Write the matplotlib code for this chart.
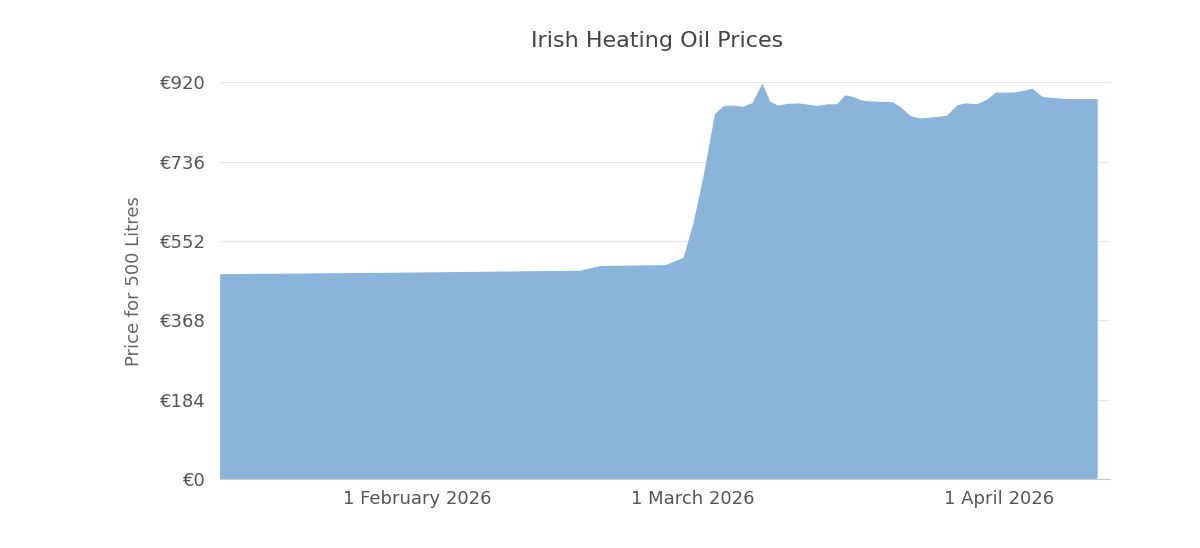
import matplotlib
matplotlib.use("Agg")
import matplotlib.pyplot as plt
import matplotlib.dates as mdates
import pandas as pd

start = pd.Timestamp("2026-01-12")
day_offsets = [0, 16, 36.5, 38.6, 45.2, 47, 48, 49, 50.2, 51.1, 52.1, 53, 54, 55, 55.8, 56.6,
               57.6, 58.7, 60.6, 61.6, 62.6, 63.4, 64.2, 65.2, 66.6, 68.2, 69, 70, 71, 73.7,
               74.8, 75.6, 76.8, 77.8, 78.7, 80.5, 81.5, 82.4, 83.4, 85.3, 86.3, 89.0]
prices = [476, 479, 484, 495, 497, 514, 593, 700, 848, 866, 867, 864, 873, 918, 876, 867,
          871, 872, 866, 870, 870, 891, 887, 878, 876, 875, 864, 843, 837, 843,
          868, 872, 870, 881, 897, 897, 901, 906, 887, 883, 882, 882]
dates = [start + pd.Timedelta(days=d) for d in day_offsets]
yticks = [0, 184, 368, 552, 736, 920]
xtick_dates = ["2026-02-01", "2026-03-01", "2026-04-01"]
xtick_labels = ["1 February 2026", "1 March 2026", "1 April 2026"]

fig = plt.figure(figsize=(12, 5.48), dpi=100)
ax = fig.add_axes([0.183, 0.126, 0.742, 0.724])
ax.fill_between(dates, prices, 0, color="#8ab4da", linewidth=0)
ax.set_xlim(start, start + pd.Timedelta(days=90.3))
ax.set_ylim(0, 920)
ax.set_yticks(yticks)
ax.set_yticklabels([f"€{v}" for v in yticks])
ax.set_xticks([pd.Timestamp(d) for d in xtick_dates])
ax.set_xticklabels(xtick_labels)
ax.grid(axis="y", color="#e6e6e6", linewidth=1)
ax.set_axisbelow(True)
for s in ["top", "right", "left"]:
    ax.spines[s].set_visible(False)
ax.spines["bottom"].set_color("#cccccc")
ax.tick_params(axis="both", length=0, labelsize=13, colors="#555555", pad=8)
ax.tick_params(axis="y", pad=10)
ax.set_ylabel("Price for 500 Litres", fontsize=13, color="#666666", labelpad=12)
fig.text(0.548, 0.915, "Irish Heating Oil Prices", ha="center", fontsize=16, color="#444444")
fig.savefig("out.png")
